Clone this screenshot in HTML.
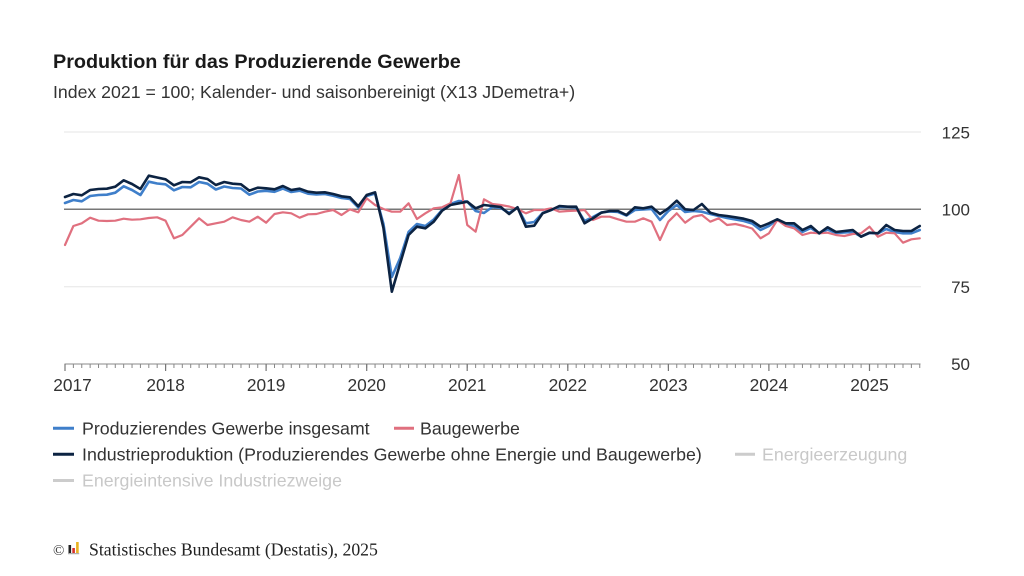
<!DOCTYPE html>
<html>
<head>
<meta charset="utf-8">
<style>
  html,body{margin:0;padding:0;background:#fff;}
  svg{display:block;}
  .sans{font-family:"Liberation Sans",Arial,sans-serif;}
  .serif{font-family:"Liberation Serif","Times New Roman",serif;}
</style>
</head>
<body>
<svg width="1024" height="576" viewBox="0 0 1024 576" xmlns="http://www.w3.org/2000/svg">
  <rect x="0" y="0" width="1024" height="576" fill="#ffffff"/>

  <!-- Title -->
  <text class="sans" x="53" y="68" font-size="19.8" font-weight="bold" fill="#1a1a1a">Produktion für das Produzierende Gewerbe</text>
  <text class="sans" x="53" y="98" font-size="17.7" fill="#333">Index 2021 = 100; Kalender- und saisonbereinigt (X13 JDemetra+)</text>

  <!-- Grid -->
  <line x1="64" y1="132" x2="921" y2="132" stroke="#e6e6e6" stroke-width="1"/>
  <line x1="64" y1="286.7" x2="921" y2="286.7" stroke="#e6e6e6" stroke-width="1"/>
  <line x1="64" y1="209.3" x2="921" y2="209.3" stroke="#777" stroke-width="1.5"/>

  <!-- Y labels -->
  <g class="sans" font-size="17" fill="#333" text-anchor="end">
    <text x="970" y="138.5">125</text>
    <text x="970" y="215.5">100</text>
    <text x="970" y="293">75</text>
    <text x="970" y="370.2">50</text>
  </g>

  <!-- X axis -->
  <line x1="64.5" y1="364" x2="920.5" y2="364" stroke="#888" stroke-width="1"/>
  <line x1="64.5" y1="366" x2="921" y2="366" stroke="#888" stroke-width="4" stroke-dasharray="1 7.38"/>
  <path d="M65,364v7 M165.6,364v7 M266.1,364v7 M366.7,364v7 M467.2,364v7 M567.8,364v7 M668.4,364v7 M768.9,364v7 M869.5,364v7" stroke="#777" stroke-width="1.2"/>

  <g class="sans" font-size="17.3" fill="#333" text-anchor="middle">
    <text x="72.5" y="391">2017</text>
    <text x="165.6" y="391">2018</text>
    <text x="266.1" y="391">2019</text>
    <text x="366.7" y="391">2020</text>
    <text x="467.2" y="391">2021</text>
    <text x="567.8" y="391">2022</text>
    <text x="668.4" y="391">2023</text>
    <text x="768.9" y="391">2024</text>
    <text x="869.5" y="391">2025</text>
  </g>

  <!-- Series -->
  <g transform="translate(65,0) scale(8.38,1)" fill="none" stroke-linejoin="round" stroke-linecap="round">
    <!-- Produzierendes Gewerbe insgesamt -->
    <polyline vector-effect="non-scaling-stroke" stroke="#3f7fca" stroke-width="2.6"
      points="0,203 1,200 2,201.3 3,196 4,195 5,194.7 6,192.7 7,186.3 8,190 9,195 10,181.7 11,183.5 12,184.3 13,190.3 14,187 15,187.3 16,182 17,183.7 18,189.5 19,186.5 20,188 21,188.5 22,194.7 23,191.5 24,190.8 25,191.8 26,188.5 27,192 28,190.7 29,193.7 30,194.5 31,194 32,195.7 33,198 34,199 35,207.5 36,196 37,193.5 38,224 39,277 40,258 41,232 42,224 43,226 44,219.5 45,210 46,204 47,201 48,201.5 49,211 50,213 51,207 52,208 53,213 54,207.5 55,223.3 56,222 57,213 58,210 59,207 60,207 61,207.5 62,221 63,217 64,212.5 65,211.5 66,212 67,215.5 68,210 69,209.5 70,209 71,220 72,211 73,205 74,212 75,211 76,211.7 77,214 78,216 79,218 80,219.5 81,221 82,223.5 83,230 84,226 85,219.5 86,225 87,226 88,232 89,228 90,233.5 91,229.5 92,233 93,232.5 94,232 95,236.5 96,233 97,233.5 98,229 99,232 100,233.3 101,233.3 102,230"/>
    <!-- Baugewerbe -->
    <polyline vector-effect="non-scaling-stroke" stroke="#e0707f" stroke-width="2.2"
      points="0,245 1,226 2,223.3 3,217.7 4,220.7 5,221 6,220.7 7,218.7 8,219.7 9,219.3 10,218 11,217.3 12,220.7 13,238.3 14,235 15,226.7 16,218.3 17,225 18,223.3 19,221.7 20,217.3 21,220 22,221.7 23,216.7 24,222.7 25,214 26,212.3 27,213.3 28,217.7 29,214.3 30,214 31,211.7 32,210 33,215 34,209.3 35,212.3 36,198.3 37,205 38,209 39,211.7 40,211.7 41,203.3 42,219 43,213.3 44,208.3 45,207.3 46,203.3 47,175 48,225 49,231.7 50,199.3 51,204 52,205 53,206.5 54,209 55,213.3 56,210 57,210 58,208.3 59,211.7 60,211 61,210.7 62,210 63,220 64,216.7 65,216.7 66,219.3 67,221.7 68,221.7 69,218.3 70,221.7 71,240 72,221.7 73,213.3 74,222.7 75,216.7 76,215 77,221.7 78,218.3 79,225 80,224 81,226 82,228.5 83,238.3 84,233.3 85,220 86,226 87,228.3 88,235 89,232.7 90,233.3 91,232.7 92,235 93,236 94,234 95,233.3 96,226.7 97,236.7 98,232.7 99,233.3 100,242.7 101,239.3 102,238.3"/>
    <!-- Industrieproduktion -->
    <polyline vector-effect="non-scaling-stroke" stroke="#0c2342" stroke-width="2.6"
      points="0,197 1,194 2,195.3 3,190 4,189 5,188.7 6,186.7 7,180.3 8,184 9,189 10,175.7 11,177.5 12,179.3 13,185.3 14,182 15,182.3 16,177.3 17,179 18,185 19,182 20,183.7 21,184.3 22,190.7 23,187.7 24,188.3 25,189.3 26,186 27,190 28,188.7 29,191.7 30,192.7 31,192.3 32,194 33,196.3 34,197.3 35,206.3 36,195 37,192.3 38,228 39,291.7 40,263.3 41,235 42,226.7 43,228.3 44,221.7 45,210.7 46,205 47,203.3 48,201.7 49,208.3 50,205 51,206 52,207 53,214 54,207.3 55,226.7 56,225.7 57,213.3 58,210 59,206 60,206.7 61,206.7 62,223.3 63,218.3 64,212.7 65,211 66,211 67,215 68,207.3 69,208.3 70,206.7 71,214 72,208.3 73,200.7 74,209.3 75,210 76,204 77,212.7 78,215 79,216 80,217.3 81,218.7 82,221 83,226.7 84,223.3 85,219.3 86,223.3 87,223.3 88,230 89,226 90,233.3 91,227.3 92,232 93,231 94,230 95,236.7 96,232.7 97,233.3 98,225 99,230 100,231 101,231 102,226"/>
  </g>

  <!-- Legend -->
  <g stroke-width="3" stroke-linecap="butt">
    <line x1="53" y1="428.3" x2="74" y2="428.3" stroke="#3f7fca"/>
    <line x1="394" y1="428.3" x2="414" y2="428.3" stroke="#e0707f"/>
    <line x1="53" y1="454.3" x2="74" y2="454.3" stroke="#0c2342"/>
    <line x1="735" y1="454.3" x2="755" y2="454.3" stroke="#cccccc"/>
    <line x1="53" y1="480.5" x2="74" y2="480.5" stroke="#cccccc"/>
  </g>
  <g class="sans" font-size="17.8">
    <text x="82" y="434.5" fill="#333">Produzierendes Gewerbe insgesamt</text>
    <text x="420" y="434.5" fill="#333">Baugewerbe</text>
    <text x="82" y="460.5" fill="#333">Industrieproduktion (Produzierendes Gewerbe ohne Energie und Baugewerbe)</text>
    <text x="762" y="460.5" fill="#c8c8c8">Energieerzeugung</text>
    <text x="82" y="486.5" fill="#c8c8c8">Energieintensive Industriezweige</text>
  </g>

  <!-- Footer -->
  <text class="serif" x="53" y="555" font-size="15" fill="#333">©</text>
  <g>
    <rect x="68.5" y="545" width="2.6" height="8" fill="#222"/>
    <rect x="72.3" y="548" width="2.6" height="5" fill="#d9312b"/>
    <rect x="76.1" y="542" width="2.6" height="11" fill="#e8b321"/>
    <rect x="68" y="553.2" width="11.2" height="1" fill="#999"/>
  </g>
  <text class="serif" x="89" y="555.5" font-size="17.7" fill="#222">Statistisches Bundesamt (Destatis), 2025</text>
</svg>
</body>
</html>
